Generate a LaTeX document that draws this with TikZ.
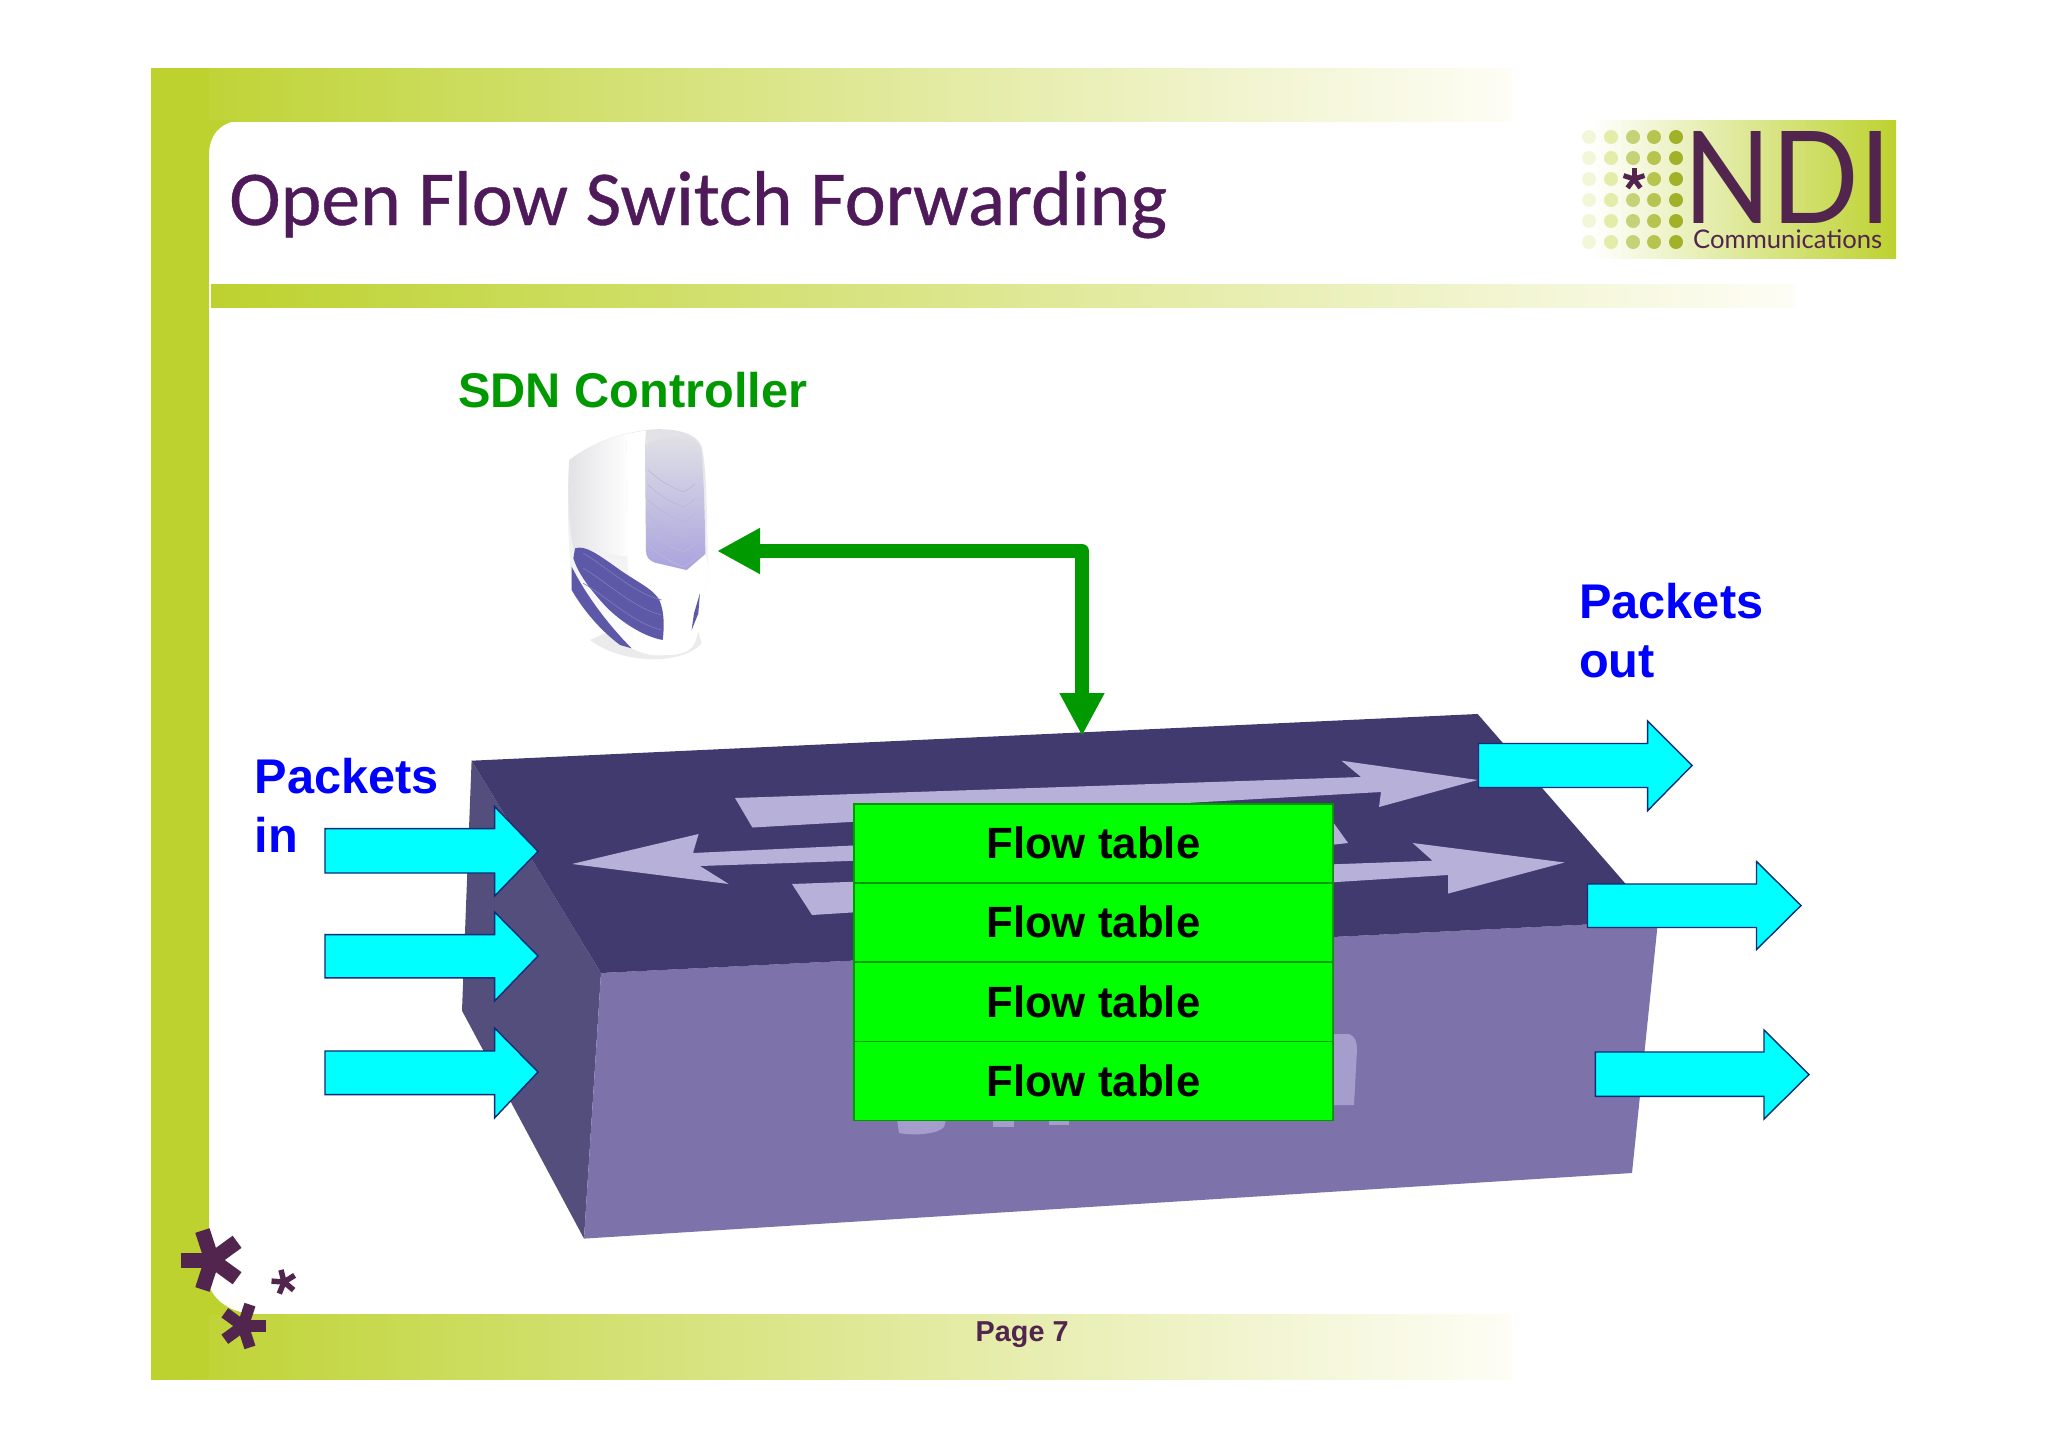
\documentclass[tikz,border=0pt]{standalone}
\usepackage{fontspec}
\usepackage{graphicx}
\setmainfont{Liberation Sans}
\newfontfamily\titlefont[FakeBold=0.5]{Carlito}
\newfontfamily\logofont{Lato}
\usetikzlibrary{arrows.meta}
\definecolor{ndilime}{HTML}{BDD22F}
\definecolor{ndimid}{HTML}{DFE89A}
\definecolor{ndicream}{HTML}{FEFDF6}
\definecolor{ndipurple}{HTML}{52254F}
\definecolor{titlepurple}{HTML}{4F1A5A}
\definecolor{swtop}{HTML}{403A6F}
\definecolor{swfront}{HTML}{7D73AA}
\definecolor{swleft}{HTML}{544E7C}
\definecolor{swarrow}{HTML}{B7B1D9}
\definecolor{swghost}{HTML}{A59DCB}
\definecolor{ctrlgreen}{HTML}{009900}
\definecolor{srvblue}{HTML}{5D58A8}
\definecolor{srvvent}{HTML}{A9A3DE}
\definecolor{srvgrey}{HTML}{E2E2E6}
\definecolor{arrowcyan}{HTML}{00FFFF}
\definecolor{arrownavy}{HTML}{0B2C78}
\definecolor{puregreen}{HTML}{00FF00}
\definecolor{pureblue}{HTML}{0000FF}
\tikzset{
  bandshade/.style={left color=ndilime,middle color=ndimid,right color=ndicream,draw=none},
  cyanar/.style={draw=arrownavy,line width=1.4pt,fill=arrowcyan,line join=miter},
  swarr/.style={fill=swarrow,draw=none},
  flowcell/.style={draw=ctrlgreen,line width=1.4pt,fill=puregreen,minimum width=479pt,minimum height=79pt,inner sep=0pt,font=\fontsize{43.8}{50}\selectfont\bfseries,text=black},
  bluelabel/.style={anchor=base west,inner sep=0pt,align=left,text=pureblue,font=\fontsize{48.7}{59}\selectfont\bfseries},
  ctrlline/.style={draw=ctrlgreen,line width=14pt,line join=round,{Triangle[length=43pt,width=43pt]}-{Triangle[length=43pt,width=42pt]}},
}
\newcommand{\cyanarrow}[8]{\draw[cyanar] (#1,#4) -- (#2,#4) -- (#2,#6) -- (#3,#8) -- (#2,#7) -- (#2,#5) -- (#1,#5) -- cycle;}
\newcommand{\ndistar}[5]{\foreach \k in {0,...,4} \draw[ndipurple,line width=#4pt] (#1,#2) -- ++({#5+72*\k}:#3);}
\begin{document}
\begin{tikzpicture}[x=1pt,y=-1pt]
\useasboundingbox (0,0) rectangle (2048,1448);
\fill[white] (0,0) rectangle (2048,1448);
% frame
\shade[bandshade] (151,68) rectangle (1512,121);
\shade[bandshade] (151,1314) rectangle (1512,1379);
\fill[ndilime] (151,68) rectangle (209,1379);
\fill[ndilime] (208,120.5) -- (238,120.5) .. controls (220,123) and (209,135) .. (209,155) -- cycle;
\fill[ndilime] (208,1282) .. controls (212,1298) and (226,1312) .. (255,1314.5) -- (208,1314.5) -- cycle;
\shade[bandshade] (211,284) rectangle (1795,307);
% logo
\shade[left color=white,right color=ndilime,draw=none] (1590,120) rectangle (1896,258);
\foreach \yy in {137,158,179,200,221,242}{
  \fill[ndilime!18!white] (1589,\yy) circle (7);
  \fill[ndilime!42!white] (1611,\yy) circle (7);
  \ifnum\yy=179 \else\fill[ndilime!60!white!92!black] (1633,\yy) circle (7);\fi
  \fill[ndilime!80!white!90!black] (1654,\yy) circle (7);
  \fill[ndilime!85!black] (1676,\yy) circle (7);
}
\ndistar{1634}{179}{11}{5}{270}
\node[anchor=base west,inner sep=0pt,text=ndipurple] (ndiname) at (1683,223) {\resizebox{208pt}{92pt}{\logofont NDI}};
\node[anchor=base west,inner sep=0pt,text=ndipurple] (ndisub) at (1693,248) {\resizebox{189pt}{!}{\logofont Communications}};
% title
\node[anchor=base west,inner sep=0pt,text=titlepurple] (title) at (229,225) {\resizebox{938pt}{!}{\titlefont\fontsize{78}{80}\selectfont Open Flow Switch Forwarding}};
% asterisks
\ndistar{212}{1260}{31}{15}{36}
\ndistar{243}{1326}{22.5}{11.5}{0}
\ndistar{284}{1282}{12.5}{5.5}{40}
% page number
\node[anchor=base west,inner sep=0pt,text=ndipurple,font=\fontsize{28.8}{32}\selectfont\bfseries] (page) at (975.5,1341) {Page 7};
% switch
\fill[swleft] (471.6,760.7) -- (601,973) -- (584,1238.6) -- (462,1010.7) -- cycle;
\fill[swfront] (601,973) -- (1658,921) -- (1632,1173) -- (584,1238.6) -- cycle;
\fill[swtop] (471.6,760.7) -- (1477.6,714) -- (1658,921) -- (601,973) -- cycle;
\fill[swarr] (735,798) -- (1361,777) -- (1341.5,760.7) -- (1477.6,780) -- (1379,807) -- (1381,792) -- (752.4,827.5) -- cycle;
\fill[swarr] (572,864) -- (698.6,834) -- (693,853) -- (1333.7,823) -- (1348,843) -- (1333.7,844.6) -- (700,866) -- (728.7,884) -- cycle;
\fill[swarr] (792,884) -- (1432.5,860.7) -- (1412.7,843) -- (1564.6,862.5) -- (1448,893.6) -- (1448,875) -- (812,915) -- cycle;
\fill[swghost] (897,1119) -- (946,1119) -- (944,1127) .. controls (938,1134) and (915,1136) .. (899,1133) -- cycle;
\fill[swghost] (993,1119) rectangle (1014,1127);
\fill[swghost] (1049,1119) rectangle (1069,1125);
\fill[swghost] (1333,1034) -- (1349,1034) .. controls (1355,1036) and (1357,1042) .. (1357,1050) -- (1354,1105) -- (1333,1105) -- cycle;
% table
\node[flowcell] (ft1) at (1093.3,843.3) {Flow table};
\node[flowcell] (ft2) at (1093.3,922.3) {Flow table};
\node[flowcell] (ft3) at (1093.3,1001.8) {Flow table};
\node[flowcell] (ft4) at (1093.3,1080.8) {Flow table};
% server
\begin{scope}[shift={(520,410)},x=0.3333pt,y=-0.3333pt]
  \fill[black!8] (210,690) .. controls (300,760) and (480,770) .. (545,700) -- (530,650) -- (300,650) -- cycle;
  % body
  \path[top color=srvgrey,bottom color=white,draw=none] (148,150) .. controls (210,105) and (280,70) .. (400,58) .. controls (470,55) and (530,70) .. (545,110) .. controls (560,170) and (560,300) .. (565,470) -- (565,500) .. controls (545,560) and (545,620) .. (530,680) .. controls (520,730) and (480,738) .. (400,735) .. controls (340,730) and (270,680) .. (210,620) .. controls (180,590) and (160,560) .. (155,530) .. controls (145,400) and (140,270) .. (148,150) -- cycle;
  % left panel
  \path[left color=srvgrey,right color=white!96!srvgrey,draw=none] (148,150) .. controls (200,112) and (260,85) .. (318,72) .. controls (325,200) and (320,340) .. (322,440) -- (160,415) .. controls (145,330) and (143,240) .. (148,150) -- cycle;
  % white strip
  \fill[white] (318,72) .. controls (338,68) and (360,64) .. (378,62) -- (375,105) -- (378,420) .. controls (378,445) and (390,455) .. (405,458) -- (500,482) -- (556,434) -- (565,470) -- (565,500) .. controls (545,560) and (545,620) .. (530,680) .. controls (520,730) and (480,738) .. (400,735) .. controls (360,730) and (330,700) .. (330,600) -- (322,440) .. controls (320,340) and (325,200) .. (318,72) -- cycle;
  % right panel
  \path[top color=srvgrey,bottom color=srvvent,draw=none] (375,105) .. controls (440,66) and (525,70) .. (543,115) .. controls (552,200) and (555,330) .. (556,432) -- (500,480) -- (405,458) .. controls (385,450) and (378,440) .. (378,420) -- cycle;
  \foreach \dy in {0,45,90,135,180,225}
    \draw[srvgrey!70!srvblue,line width=0.7pt] (385,{180+\dy}) .. controls (420,{215+\dy}) and (470,{240+\dy}) .. (490,{245+\dy}) .. controls (505,{240+\dy}) and (515,{230+\dy}) .. (525,{222+\dy});
  \fill[srvblue] (165,415) .. controls (195,405) and (230,430) .. (300,480) .. controls (350,515) and (395,535) .. (415,565) .. controls (430,590) and (435,640) .. (428,690) .. controls (370,680) and (290,630) .. (240,570) .. controls (205,530) and (175,490) .. (160,445) -- cycle;
  \fill[srvblue] (155,470) .. controls (200,560) and (270,650) .. (335,715) -- (300,705) .. controls (240,660) and (190,600) .. (155,540) -- cycle;
  \fill[srvblue] (540,550) -- (535,610) -- (515,660) -- (522,610) -- cycle;
  \foreach \dy in {0,45,90}
    \draw[srvblue!80!white,line width=0.7pt] (190,{430+\dy}) .. controls (260,{470+\dy}) and (340,{550+\dy}) .. (425,{570+\dy});
\end{scope}
% labels
\node[anchor=base west,inner sep=0pt,text=ctrlgreen,font=\fontsize{48.7}{60}\selectfont\bfseries] (ctrllabel) at (458,407) {SDN Controller};
\node[bluelabel] (pin) at (254.5,852) {Packets\\in};
\node[bluelabel] (pout) at (1579,677.5) {Packets\\out};
% connector
\coordinate (srvport) at (717,551);
\coordinate (swport) at (1082,736);
\draw[ctrlline] (srvport) -| (swport);
% cyan arrows
\cyanarrow{325}{494.6}{538}{828.6}{873}{806.5}{896}{851.4}
\cyanarrow{325}{494.6}{538}{934.6}{977.9}{912}{1001}{956}
\cyanarrow{325}{494.6}{538}{1051}{1094.6}{1028}{1117.9}{1072}
\cyanarrow{1478.5}{1647.6}{1692}{743.5}{787.5}{721}{810.7}{765.5}
\cyanarrow{1587.5}{1756.5}{1801}{884}{927.5}{861.5}{949.6}{905.5}
\cyanarrow{1595.4}{1764}{1809}{1052}{1096.4}{1030}{1119}{1074.5}
\end{tikzpicture}
\end{document}
